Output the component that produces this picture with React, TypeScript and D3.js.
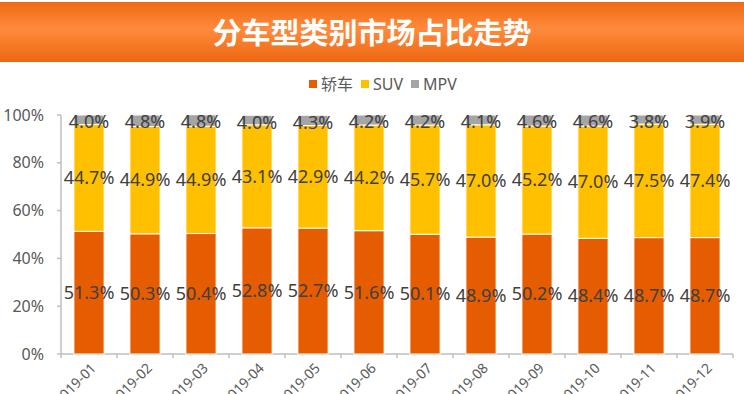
import React from 'react';
import * as d3 from 'd3';

// months, series shares in %
const months = ['2019-01', '2019-02', '2019-03', '2019-04', '2019-05', '2019-06', '2019-07', '2019-08', '2019-09', '2019-10', '2019-11', '2019-12'];
const sedan = [51.3, 50.3, 50.4, 52.8, 52.7, 51.6, 50.1, 48.9, 50.2, 48.4, 48.7, 48.7];
const suv = [44.7, 44.9, 44.9, 43.1, 42.9, 44.2, 45.7, 47.0, 45.2, 47.0, 47.5, 47.4];
const mpv = [4.0, 4.8, 4.8, 4.0, 4.3, 4.2, 4.2, 4.1, 4.6, 4.6, 3.8, 3.9];
const seriesNames = ['轿车', 'SUV', 'MPV'];
const yTicks = [0, 20, 40, 60, 80, 100];

const colors = ['#E65C00', '#FFC000', '#A5A5A5'];
const W = 744;
const H = 394;
const margin = { left: 61, right: 11, top: 115, bottom: 40 };
const font = '"Noto Sans", "Noto Sans CJK SC", sans-serif';

const App = () => {
  const rows = months.map((m, i) => ({ month: m, 轿车: sedan[i], SUV: suv[i], MPV: mpv[i] }));
  const stacked = d3.stack<any>().keys(seriesNames)(rows);

  const x = d3.scaleBand().domain(months).range([margin.left, W - margin.right]).paddingInner(0.46).paddingOuter(0.23);
  const y = d3.scaleLinear().domain([0, 100]).range([H - margin.bottom, margin.top]);
  const step = x.step();

  return (
    <svg width={W} height={H} style={{ position: 'absolute', left: 0, top: 0, background: '#fff' }}>
      <defs>
        <linearGradient id="banner" x1="0" y1="0" x2="0" y2="1">
          <stop offset="0%" stopColor="#EE6A14" />
          <stop offset="45%" stopColor="#FF8A3C" />
          <stop offset="100%" stopColor="#EC6810" />
        </linearGradient>
      </defs>
      <rect x={0} y={2} width={W} height={60} fill="url(#banner)" />
      <text x={W / 2} y={44} textAnchor="middle" fill="#fff" fontSize={29} fontWeight="bold" fontFamily='"Noto Sans CJK SC", sans-serif'>
        分车型类别市场占比走势
      </text>

      {/* legend */}
      {seriesNames.map((s, i) => {
        const lx = [309, 361, 411][i];
        return (
          <g key={s}>
            <rect x={lx} y={80} width={8} height={8} fill={colors[i]} />
            <text x={lx + 12} y={90} fontSize={16} fill="#595959" fontFamily={font}>{s}</text>
          </g>
        );
      })}

      {/* y axis */}
      <line x1={margin.left} x2={margin.left} y1={y(100)} y2={y(0)} stroke="#BFBFBF" strokeWidth={1.5} />
      {yTicks.map((t) => (
        <g key={t}>
          <line x1={margin.left - 4} x2={margin.left} y1={y(t)} y2={y(t)} stroke="#BFBFBF" strokeWidth={1.5} />
          <text x={44} y={y(t)} dy="0.35em" textAnchor="end" fontSize={16} fill="#595959" fontFamily={font}>{t}%</text>
        </g>
      ))}

      {/* x axis */}
      <line x1={margin.left} x2={W - margin.right} y1={y(0)} y2={y(0)} stroke="#BFBFBF" strokeWidth={1.5} />
      {d3.range(months.length + 1).map((i) => (
        <line key={i} x1={margin.left + i * step} x2={margin.left + i * step} y1={y(0)} y2={y(0) + 4} stroke="#BFBFBF" strokeWidth={1.5} />
      ))}
      {months.map((m) => {
        const cx = (x(m) as number) + x.bandwidth() / 2 + 8;
        const cy = y(0) + 15;
        return (
          <text key={m} transform={`translate(${cx},${cy}) rotate(-45)`} textAnchor="end" fontSize={14} fill="#595959" fontFamily={font}>
            {m}
          </text>
        );
      })}

      {/* bars */}
      {stacked.map((layer, si) => (
        <g key={layer.key}>
          {layer.map((d, i) => (
            <rect
              key={i}
              x={x(months[i])}
              y={y(d[1])}
              width={x.bandwidth()}
              height={y(d[0]) - y(d[1])}
              fill={colors[si]}
              stroke="#fff"
              strokeWidth={1}
            />
          ))}
          {layer.map((d, i) => (
            <text
              key={'t' + i}
              x={(x(months[i]) as number) + x.bandwidth() / 2}
              y={si === 2 ? y(d[1]) + 7 : (y(d[0]) + y(d[1])) / 2}
              dy="0.35em"
              textAnchor="middle"
              fontSize={18}
              fill="#404040"
              fontFamily={font}
            >
              {(d[1] - d[0]).toFixed(1)}%
            </text>
          ))}
        </g>
      ))}
    </svg>
  );
};

export default App;
